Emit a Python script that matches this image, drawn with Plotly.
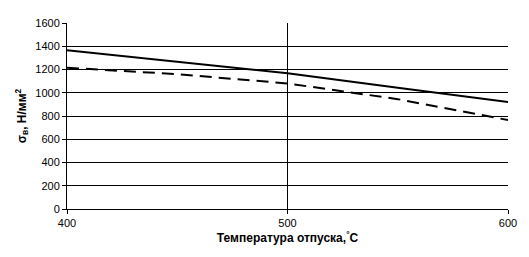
import plotly.graph_objects as go

temps = [400, 450, 500, 550, 600]
sigma_solid = [1366, 1268, 1168, 1043, 920]
sigma_dashed = [1215, 1160, 1080, 945, 765]

x_ticks = [400, 500, 600]
y_ticks = [0, 200, 400, 600, 800, 1000, 1200, 1400, 1600]

fig = go.Figure()
fig.add_trace(go.Scatter(x=temps, y=sigma_solid, mode="lines",
                         line=dict(color="black", width=2), showlegend=False))
fig.add_trace(go.Scatter(x=temps, y=sigma_dashed, mode="lines",
                         line=dict(color="black", width=2, dash="12px,7px"), showlegend=False))

font = dict(family="Liberation Sans, Arial, sans-serif", size=11, color="black")
tfont = dict(family="Liberation Sans, Arial, sans-serif", size=12, color="black")
fig.update_layout(
    width=529, height=257,
    margin=dict(l=67, r=19, t=23, b=48),
    paper_bgcolor="white", plot_bgcolor="white",
    font=font,
    xaxis=dict(range=[400, 600], tickvals=x_ticks, showgrid=True, gridcolor="black", gridwidth=1,
               showline=True, linecolor="black", linewidth=1, ticks="outside", ticklen=4,
               tickcolor="black", zeroline=False,
               title=dict(text="<b>Температура отпуска,<sup>°</sup>C</b>", font=tfont, standoff=3)),
    yaxis=dict(range=[0, 1600], tickvals=y_ticks, showgrid=True, gridcolor="black", gridwidth=1,
               showline=True, linecolor="black", linewidth=1, ticks="outside", ticklen=4,
               tickcolor="black", zeroline=False,
               title=dict(text="<b>σ<sub>в</sub>, Н/мм<sup>2</sup></b>", font=tfont, standoff=6)),
)
fig.write_html("out.html")
